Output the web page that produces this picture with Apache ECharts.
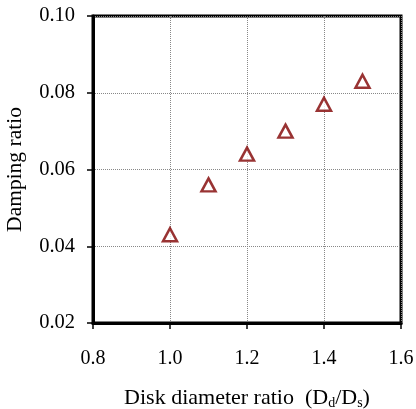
<!DOCTYPE html>
<html><head><meta charset="utf-8">
<script src="https://cdn.jsdelivr.net/npm/echarts@6/dist/echarts.min.js"></script>
<style>html,body{margin:0;padding:0;background:#fff}#c{width:416px;height:409px}</style>
</head><body><div id="c"></div>
<script>
const ratios = [1.0, 1.1, 1.2, 1.3, 1.4, 1.5];
const damping = [0.043, 0.056, 0.064, 0.070, 0.077, 0.083];
const xTicks = [0.8, 1.0, 1.2, 1.4, 1.6];
const yTicks = [0.02, 0.04, 0.06, 0.08, 0.10];

const font = 'Liberation Serif';
const chart = echarts.init(document.getElementById('c'), null, {renderer: 'canvas'});
chart.setOption({
  animation: false,
  backgroundColor: '#fff',
  grid: {left: 93, top: 16, right: 15, bottom: 86, outerBoundsMode: 'none', containLabel: false,
    show: true, borderColor: '#000', borderWidth: 3, backgroundColor: 'transparent'},
  xAxis: {
    type: 'value', min: 0.8, max: 1.6, interval: 0.2,
    name: '{a|Disk diameter ratio  (D}{s|d}{a|/D}{s|s}{a|)}',
    nameLocation: 'middle', nameGap: 64,
    nameTextStyle: {rich: {
      a: {fontFamily: font, fontSize: 22, color: '#000'},
      s: {fontFamily: font, fontSize: 14, color: '#000', verticalAlign: 'bottom', padding: [9, 0, 0, 0]}
    }},
    axisLine: {show: true, onZero: false, lineStyle: {color: '#000', width: 3}},
    axisTick: {show: true, inside: false, length: 6, lineStyle: {color: '#000', width: 1.5}},
    axisLabel: {fontFamily: font, fontSize: 20, color: '#000', margin: 26,
      formatter: v => { const t = xTicks.find(k => Math.abs(k - v) < 1e-9); return t !== undefined ? t.toFixed(1) : ''; }},
    splitLine: {show: true, lineStyle: {color: '#888', width: 1, type: [1, 1]}}
  },
  yAxis: {
    type: 'value', min: 0.02, max: 0.10, interval: 0.02,
    name: 'Damping ratio', nameLocation: 'middle', nameGap: 67,
    nameTextStyle: {fontFamily: font, fontSize: 21.5, color: '#000'},
    axisLine: {show: true, onZero: false, lineStyle: {color: '#000', width: 3}},
    axisTick: {show: true, inside: false, length: 6, lineStyle: {color: '#000', width: 1.5}},
    axisLabel: {fontFamily: font, fontSize: 20.5, color: '#000', margin: 18,
      formatter: v => { const t = yTicks.find(k => Math.abs(k - v) < 1e-9); return t !== undefined ? t.toFixed(2) : ''; }},
    splitLine: {show: true, lineStyle: {color: '#888', width: 1, type: [1, 1]}}
  },
  series: [{
    type: 'scatter',
    data: ratios.map((r, i) => [r, damping[i]]),
    symbol: 'triangle', symbolSize: [14, 13],
    itemStyle: {color: '#fff', borderColor: '#800000', borderWidth: 2.5}
  }]
});
</script></body></html>
